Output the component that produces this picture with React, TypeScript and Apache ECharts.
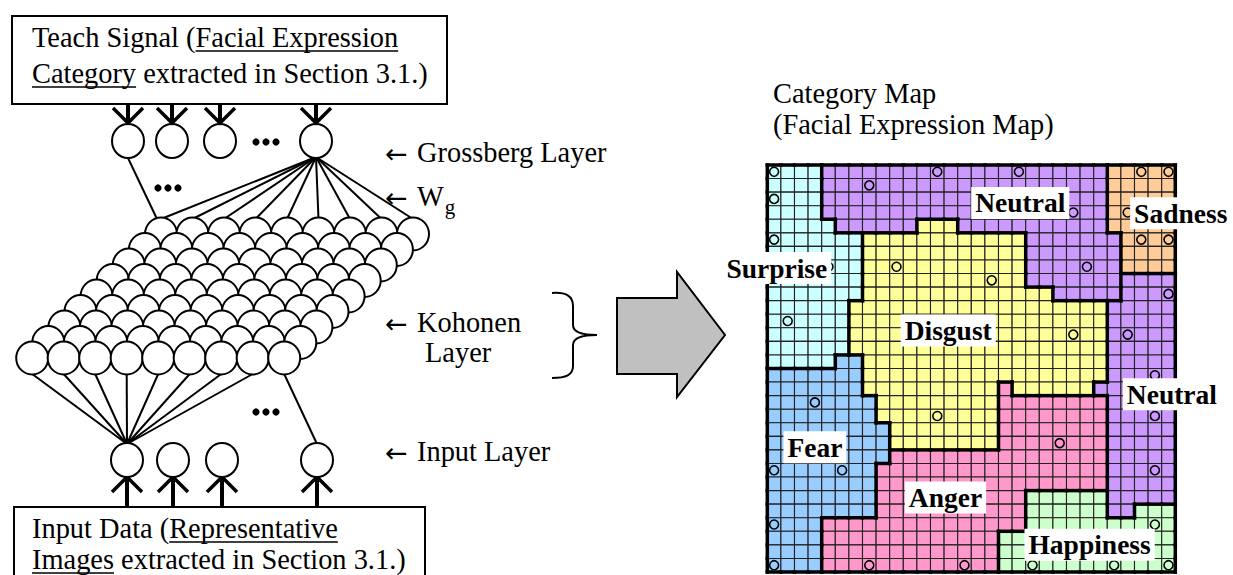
import React, { useEffect, useRef } from 'react';
import * as echarts from 'echarts';

// ---- Data ----
const GRID_COLS = 30;
const GRID_ROWS = 30;

// region code per map cell, run-length per row (row 0 = top)
// U Surprise, N Neutral (top), M Neutral (right), S Sadness, D Disgust, F Fear, A Anger, H Happiness
const regionRuns: [string, number][][] = [
  [['U', 4], ['N', 21], ['S', 5]],
  [['U', 4], ['N', 21], ['S', 5]],
  [['U', 4], ['N', 21], ['S', 5]],
  [['U', 4], ['N', 21], ['S', 5]],
  [['U', 5], ['N', 6], ['D', 3], ['N', 11], ['S', 5]],
  [['U', 7], ['D', 12], ['N', 7], ['S', 4]],
  [['U', 7], ['D', 12], ['N', 7], ['S', 4]],
  [['U', 7], ['D', 12], ['N', 7], ['S', 4]],
  [['U', 7], ['D', 12], ['N', 7], ['M', 4]],
  [['U', 7], ['D', 14], ['N', 5], ['M', 4]],
  [['U', 6], ['D', 19], ['M', 5]],
  [['U', 6], ['D', 19], ['M', 5]],
  [['U', 6], ['D', 19], ['M', 5]],
  [['U', 6], ['D', 19], ['M', 5]],
  [['U', 5], ['F', 2], ['D', 18], ['M', 5]],
  [['F', 7], ['D', 18], ['M', 5]],
  [['F', 7], ['D', 10], ['A', 1], ['D', 6], ['M', 6]],
  [['F', 8], ['D', 9], ['A', 8], ['M', 5]],
  [['F', 8], ['D', 9], ['A', 8], ['M', 5]],
  [['F', 9], ['D', 8], ['A', 8], ['M', 5]],
  [['F', 9], ['D', 8], ['A', 8], ['M', 5]],
  [['F', 9], ['A', 16], ['M', 5]],
  [['F', 8], ['A', 17], ['M', 5]],
  [['F', 8], ['A', 17], ['M', 5]],
  [['F', 8], ['A', 11], ['H', 6], ['M', 5]],
  [['F', 8], ['A', 11], ['H', 6], ['M', 2], ['H', 3]],
  [['F', 4], ['A', 15], ['H', 11]],
  [['F', 4], ['A', 13], ['H', 13]],
  [['F', 4], ['A', 13], ['H', 13]],
  [['F', 4], ['A', 13], ['H', 13]],
];

const regionCodes = ['U', 'N', 'M', 'S', 'D', 'F', 'A', 'H'];
const regionCategory: Record<string, string> = {
  U: 'Surprise', N: 'Neutral', M: 'Neutral', S: 'Sadness',
  D: 'Disgust', F: 'Fear', A: 'Anger', H: 'Happiness',
};
const categoryColors: Record<string, string> = {
  Surprise: '#ccffff', Neutral: '#cc99ff', Sadness: '#ffcc99', Disgust: '#ffff99',
  Fear: '#99ccff', Anger: '#ff99cc', Happiness: '#ccffcc',
};

// cells that hold a small circle [col, row]
const winnerCells: [number, number][] = [
  [0, 0], [12, 0], [18, 0], [27, 0], [29, 0], [7, 1], [0, 2], [22, 3], [26, 3],
  [0, 5], [27, 5], [29, 5], [4, 7], [9, 7], [23, 7], [16, 8], [29, 9], [1, 11],
  [22, 12], [26, 12], [28, 15], [3, 17], [12, 18], [28, 18], [21, 20], [0, 22],
  [5, 22], [28, 22], [0, 26], [28, 26], [0, 29], [7, 29], [14, 29], [19, 29],
  [25, 29], [29, 29],
];

// region labels [name, col, row] (map cell coordinates)
const regionLabels: [string, number, number][] = [
  ['Neutral', 18.6, 2.8],
  ['Sadness', 30.4, 3.55],
  ['Surprise', 0.7, 7.6],
  ['Disgust', 13.3, 12.2],
  ['Neutral', 29.75, 16.9],
  ['Fear', 3.5, 20.8],
  ['Anger', 13.1, 24.5],
  ['Happiness', 23.7, 28.0],
];

const teachLine1 = ['Teach Signal (', 'Facial Expression', ''];
const teachLine2 = ['', 'Category', ' extracted in Section 3.1.)'];
const inputLine1 = ['Input Data (', 'Representative', ''];
const inputLine2 = ['', 'Images', ' extracted in Section 3.1.)'];

const FAMILY = '"Liberation Serif", "Times New Roman", serif';
const ARROW_FAMILY = '"DejaVu Sans", sans-serif';
const TEXT_SIZE = 28.4;

function App() {
  const ref = useRef<HTMLDivElement>(null);

  useEffect(() => {
    if (!ref.current) return;
    const chart = echarts.init(ref.current, null, { renderer: 'svg' });

    const canvas = document.createElement('canvas');
    const ctx = canvas.getContext('2d')!;
    const measure = (t: string, size: number, fam = FAMILY) => {
      ctx.font = `${size}px ${fam}`;
      return ctx.measureText(t).width;
    };

    // expand region grid
    const grid: string[][] = regionRuns.map((runs) => {
      const row: string[] = [];
      runs.forEach(([code, n]) => {
        for (let i = 0; i < n; i++) row.push(code);
      });
      return row;
    });
    const cellData: number[][] = [];
    for (let r = 0; r < GRID_ROWS; r++) {
      for (let c = 0; c < GRID_COLS; c++) {
        cellData.push([c, r, regionCodes.indexOf(grid[r][c])]);
      }
    }
    const codeColor = regionCodes.map((k) => categoryColors[regionCategory[k]]);

    const g: any[] = [];
    const K = '#000';
    const text = (x: number, y: number, t: string, size = TEXT_SIZE, fam = FAMILY) =>
      g.push({
        type: 'text', x, y, z: 10,
        style: {
          text: t, font: `${size}px ${fam}`, fill: K,
          align: 'left', verticalAlign: 'middle', textAlign: 'left', textVerticalAlign: 'middle',
        },
      });
    const arrowText = (x: number, y: number, t: string) => {
      text(x, y + 1, '\u2190', 27, ARROW_FAMILY);
      text(x + 32, y, t);
    };
    const line = (x1: number, y1: number, x2: number, y2: number, w = 2) =>
      g.push({ type: 'line', z: 5, shape: { x1, y1, x2, y2 }, style: { stroke: K, lineWidth: w } });
    const ell = (cx: number, cy: number, rx: number, ry: number, z = 6) =>
      g.push({ type: 'ellipse', z, shape: { cx, cy, rx, ry }, style: { fill: '#fff', stroke: K, lineWidth: 2 } });
    const dots = (x: number, y: number) => {
      [0, 10, 20].forEach((d) =>
        g.push({ type: 'circle', z: 6, shape: { cx: x + d, cy: y, r: 3.6 }, style: { fill: K } }),
      );
    };
    const underlinedLine = (x0: number, y: number, parts: string[]) => {
      const full = parts.join('');
      text(x0, y, full);
      const w0 = measure(parts[0], TEXT_SIZE);
      const w1 = measure(parts[1], TEXT_SIZE);
      line(x0 + w0, y + 14, x0 + w0 + w1, y + 14, 1.3);
    };

    // Teach signal box
    g.push({ type: 'rect', z: 4, shape: { x: 12, y: 16, width: 435, height: 88 }, style: { fill: '#fff', stroke: K, lineWidth: 2 } });
    underlinedLine(32, 37, teachLine1);
    underlinedLine(32, 73, teachLine2);

    // Input data box
    g.push({ type: 'rect', z: 4, shape: { x: 14, y: 507, width: 411, height: 90 }, style: { fill: '#fff', stroke: K, lineWidth: 2 } });
    underlinedLine(32, 528, inputLine1);
    underlinedLine(32, 559, inputLine2);

    // Grossberg layer
    const topX = [128, 172, 220, 316];
    const gY = 141;
    topX.forEach((x) => {
      line(x, 104, x, 122, 4);
      g.push({ type: 'polyline', z: 7, shape: { points: [[x - 15, 108], [x, 123], [x + 15, 108]] }, style: { stroke: K, lineWidth: 3.5, fill: null } });
      ell(x, gY, 16, 17);
    });
    dots(256, 142);

    // Kohonen layer geometry
    const kRows = 9, kCols = 9;
    const kx = (j: number, k: number) => 161 + j * 31.5 - k * 16.1;
    const ky = (k: number) => 234 + k * 15.5;
    const kR = 16;

    // Wg connections
    for (let j = 0; j < kCols; j++) line(316, gY + 16, kx(j, 0), ky(0) - kR + 1, 2);
    line(128, gY + 17, kx(0, 0) - 4, ky(0) - kR + 1, 2);
    dots(158, 188);

    // Kohonen circles (back row first)
    for (let k = 0; k < kRows; k++) {
      for (let j = 0; j < kCols; j++) ell(kx(j, k), ky(k), kR, kR + 0.5, 6 + k * 0.01);
    }

    // Input layer
    const inY = 460;
    for (let j = 0; j < kCols - 1; j++) line(127, inY - 16, kx(j, kRows - 1), ky(kRows - 1) + kR, 2);
    line(317, inY - 16, kx(kCols - 1, kRows - 1), ky(kRows - 1) + kR, 2);
    dots(256, 412);
    const inX = [127, 173, 222, 317];
    inX.forEach((x) => {
      line(x, 507, x, 478, 4);
      g.push({ type: 'polyline', z: 7, shape: { points: [[x - 15, 492], [x, 477], [x + 15, 492]] }, style: { stroke: K, lineWidth: 3.5, fill: null } });
      ell(x, inY, 16, 17, 8);
    });

    // right-hand labels
    arrowText(385, 152, 'Grossberg Layer');
    arrowText(385, 196, 'W');
    text(417 + measure('W', TEXT_SIZE) + 1, 207, 'g', 21);
    arrowText(385, 322, 'Kohonen');
    text(425, 352, 'Layer');
    arrowText(385, 451, 'Input Layer');

    // brace
    const bz = (x1: number, y1: number, c1x: number, c1y: number, c2x: number, c2y: number, x2: number, y2: number) =>
      g.push({ type: 'bezierCurve', z: 5, shape: { x1, y1, cpx1: c1x, cpy1: c1y, cpx2: c2x, cpy2: c2y, x2, y2 }, style: { stroke: K, lineWidth: 2, fill: null } });
    bz(552, 293, 566, 292, 573, 296, 573, 306);
    line(573, 306, 573, 325, 2);
    bz(573, 325, 573, 333, 584, 335, 597, 335);
    bz(597, 335, 584, 335, 573, 337, 573, 345);
    line(573, 345, 573, 366, 2);
    bz(573, 366, 573, 375, 566, 378, 552, 378);

    // big arrow
    g.push({
      type: 'polygon', z: 5,
      shape: { points: [[617, 298], [677, 298], [677, 272], [725, 335], [677, 397], [677, 374], [617, 374]] },
      style: { fill: '#c0c0c0', stroke: K, lineWidth: 2 },
    });

    // map title
    text(773, 93, 'Category Map');
    text(773, 124, '(Facial Expression Map)');

    const option: any = {
      animation: false,
      backgroundColor: '#fff',
      grid: { left: 767.3, top: 165, width: 408, height: 407 },
      xAxis: { type: 'value', min: 0, max: GRID_COLS, show: false },
      yAxis: { type: 'value', min: 0, max: GRID_ROWS, inverse: true, show: false },
      graphic: { elements: g },
      series: [
        {
          type: 'custom',
          silent: true,
          data: cellData,
          z: 1,
          renderItem: (params: any, api: any) => {
            const c = api.value(0), r = api.value(1), k = api.value(2);
            const p0 = api.coord([c, r]);
            const p1 = api.coord([c + 1, r + 1]);
            return {
              type: 'rect',
              shape: { x: p0[0], y: p0[1], width: p1[0] - p0[0], height: p1[1] - p0[1] },
              style: { fill: codeColor[k], stroke: '#222', lineWidth: 1.1 },
            };
          },
        },
        {
          type: 'custom',
          silent: true,
          data: cellData,
          z: 3,
          renderItem: (params: any, api: any) => {
            const c = api.value(0), r = api.value(1);
            const code = grid[r][c];
            const p0 = api.coord([c, r]);
            const p1 = api.coord([c + 1, r + 1]);
            const children: any[] = [];
            const st = { stroke: '#000', lineWidth: 3.5, lineCap: 'square' };
            if (c === GRID_COLS - 1 || grid[r][c + 1] !== code)
              children.push({ type: 'line', shape: { x1: p1[0], y1: p0[1], x2: p1[0], y2: p1[1] }, style: st });
            if (r === GRID_ROWS - 1 || grid[r + 1][c] !== code)
              children.push({ type: 'line', shape: { x1: p0[0], y1: p1[1], x2: p1[0], y2: p1[1] }, style: st });
            if (c === 0)
              children.push({ type: 'line', shape: { x1: p0[0], y1: p0[1], x2: p0[0], y2: p1[1] }, style: st });
            if (r === 0)
              children.push({ type: 'line', shape: { x1: p0[0], y1: p0[1], x2: p1[0], y2: p0[1] }, style: st });
            return { type: 'group', children };
          },
        },
        {
          type: 'scatter',
          silent: true,
          z: 4,
          symbol: 'circle',
          symbolSize: 9,
          itemStyle: { color: 'rgba(0,0,0,0)', borderColor: '#000', borderWidth: 1.6, opacity: 1 },
          data: winnerCells.map(([c, r]) => [c + 0.5, r + 0.5]),
        },
        {
          type: 'scatter',
          silent: true,
          clip: false,
          z: 6,
          symbolSize: 1,
          itemStyle: { color: 'rgba(0,0,0,0)', opacity: 1 },
          label: {
            show: true,
            position: 'inside',
            formatter: (p: any) => p.name,
            fontFamily: FAMILY,
            fontWeight: 'bold',
            fontSize: 27.5,
            color: '#000',
            backgroundColor: '#fff',
            padding: [3, 4, 1, 4],
          },
          data: regionLabels.map(([name, c, r]) => ({ name, value: [c, r] })),
        },
      ],
    };
    chart.setOption(option);
    return () => chart.dispose();
  }, []);

  return <div ref={ref} style={{ position: 'absolute', left: 0, top: 0, width: 1233, height: 575 }} />;
}

export default App;
